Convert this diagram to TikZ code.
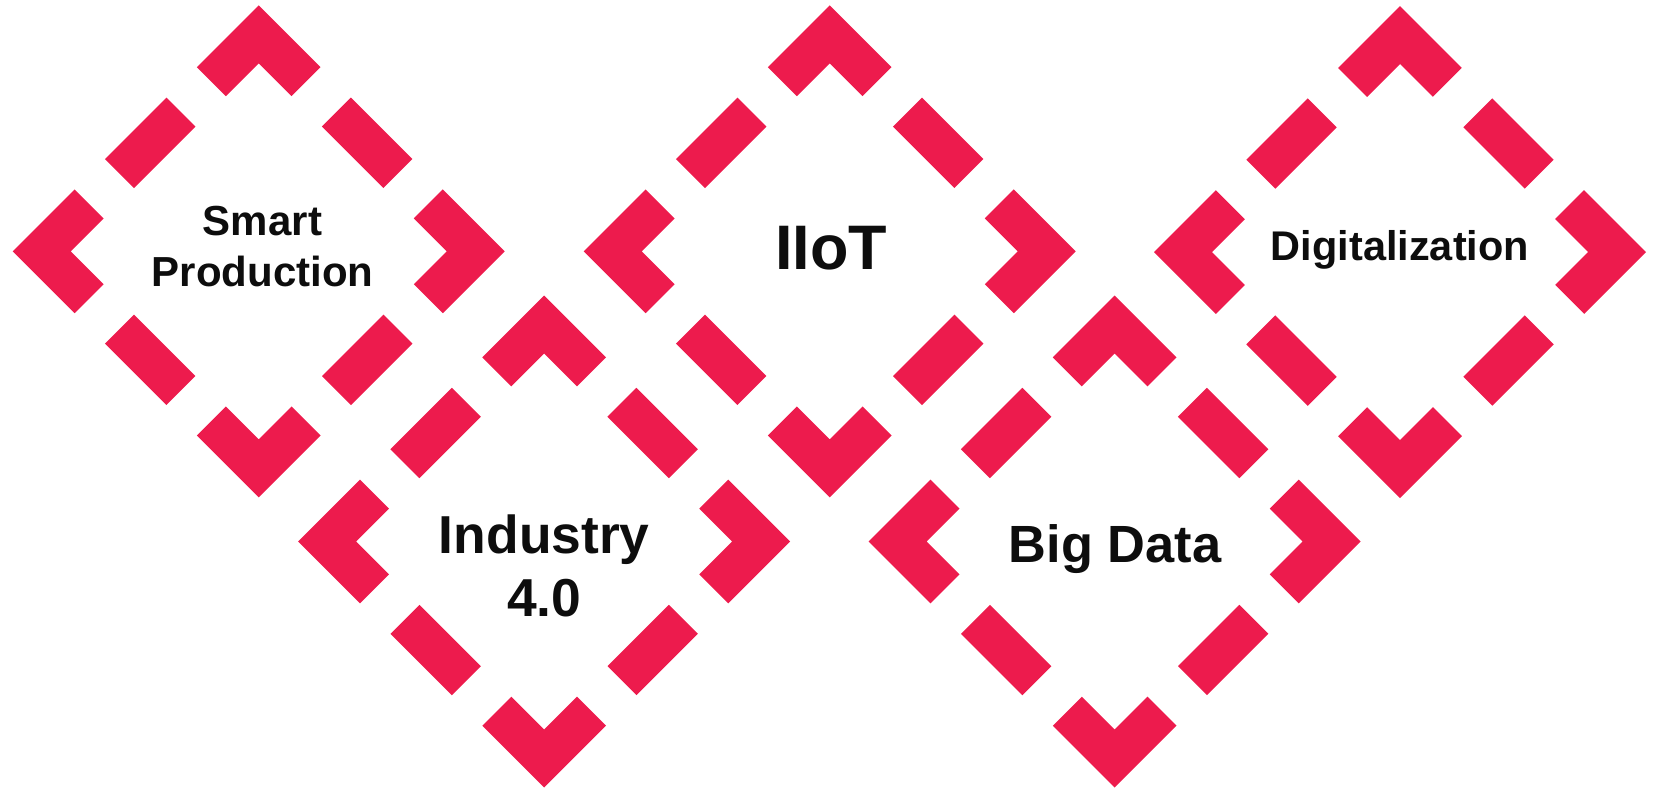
\documentclass[tikz,border=0pt]{standalone}
\usepackage{fontspec}
\setmainfont{Liberation Sans}
\usetikzlibrary{positioning,calc}

\definecolor{chevronred}{RGB}{237,27,77}
\definecolor{labelink}{RGB}{13,13,13}

\begin{document}
\begin{tikzpicture}[
    diamondline/.style = {draw = chevronred, line width = 0.41cm, line join = miter, line cap = butt,
                          dash pattern = {on 0.869cm off 0.43cm on 1.34cm off 0.43cm}, dash phase = 2.854cm},
    label/.style = {text = labelink, anchor = base, align = center, inner sep = 0pt}
  ]

    \useasboundingbox (0, 0) rectangle (16.53, -7.87);

    % half diagonal of a diamond, measured on the middle of the stroke
    \def\r{2.17}

    % five dashed diamonds, the dashes run round the corners
    \foreach \cx/\cy in {2.587/-2.513, 8.297/-2.513, 14.0/-2.52, 5.442/-5.415, 11.147/-5.415} {
        \draw [diamondline] (\cx - .6258, \cy + \r - .6258) -- (\cx - \r, \cy) -- (\cx, \cy - \r)
            -- (\cx + \r, \cy) -- (\cx, \cy + \r) -- cycle;
    }

    % base of a two line label = base of its last line
    \node [label, font = \bfseries\fontsize{11.95}{14.4}\selectfont] (smart) at (2.625, -2.86) {Smart\\Production};
    \node [label, font = \bfseries\fontsize{17.9}{20}\selectfont] (iiot) at (8.31, -2.69) {IIoT};
    \node [label, font = \bfseries\fontsize{11.8}{14}\selectfont] (digital) at (14.0, -2.60) {Digitalization};
    \node [label, font = \bfseries\fontsize{15.2}{17.9}\selectfont] (industry) at (5.443, -6.167) {Industry\\4.0};
    \node [label, font = \bfseries\fontsize{14.9}{17}\selectfont] (bigdata) at (11.15, -5.62) {Big Data};

\end{tikzpicture}
\end{document}
